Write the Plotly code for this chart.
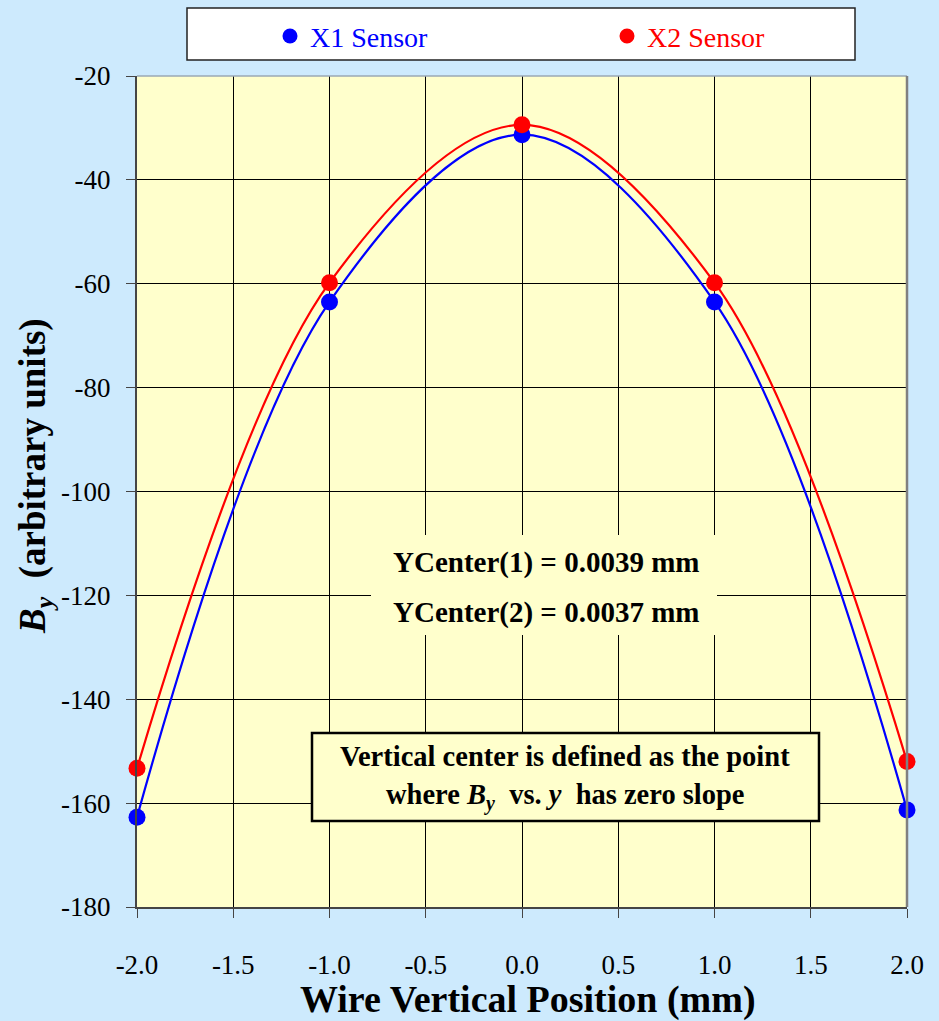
import plotly.graph_objects as go

# Wire vertical position (mm) and measured B_y for both sensors
positions = [-2.0, -1.0, 0.0, 1.0, 2.0]
x1_by = [-162.7, -63.5, -31.3, -63.5, -161.3]
x2_by = [-153.3, -59.8, -29.4, -59.8, -152.0]

series_names = ["X1 Sensor", "X2 Sensor"]
series_colors = ["#0000ff", "#ff0000"]

x_ticks = [-2.0, -1.5, -1.0, -0.5, 0.0, 0.5, 1.0, 1.5, 2.0]
y_ticks = [-180, -160, -140, -120, -100, -80, -60, -40, -20]

center_lines = ["YCenter(1) = 0.0039 mm", "YCenter(2) = 0.0037 mm"]
note_lines = [
    "<b>Vertical center is defined as the point</b>",
    "<b>where <i>B</i></b><sub><b><i>y</i></b></sub><b>  vs. <i>y</i>  has zero slope</b>",
]

SERIF = "Liberation Serif"
PAGE_BG = "#cdeafd"
PLOT_BG = "#ffffcc"

# plot area in pixels, used to place paper-referenced items
L, R, T, B = 137, 907, 76, 907
PW, PH = R - L, B - T


def px(xp):
    return (xp - L) / PW


def py(yp):
    return (B - yp) / PH


fig = go.Figure()

for name, ys, color in zip(series_names, [x1_by, x2_by], series_colors):
    # smooth fitted curve
    fig.add_trace(go.Scatter(
        x=positions, y=ys, mode="lines",
        line=dict(color=color, width=2.2, shape="spline", smoothing=1.0),
        showlegend=False, hoverinfo="skip",
    ))
for name, ys, color in zip(series_names, [x1_by, x2_by], series_colors):
    # measured points
    fig.add_trace(go.Scatter(
        x=positions, y=ys, mode="markers", name=name,
        marker=dict(color=color, size=17, line=dict(width=0)),
        showlegend=False, cliponaxis=False,
    ))

fig.update_layout(
    width=939, height=1021,
    margin=dict(l=L, r=939 - R, t=T, b=1021 - B, autoexpand=False),
    paper_bgcolor=PAGE_BG,
    plot_bgcolor=PLOT_BG,
    font=dict(family=SERIF, size=27, color="#000000"),
    showlegend=False,
    xaxis=dict(
        range=[-2.0, 2.0],
        tickvals=x_ticks,
        ticktext=[f"{v:.1f}" for v in x_ticks],
        showgrid=True, gridcolor="#000000", gridwidth=1,
        zeroline=False,
        showline=True, linecolor="#454545", linewidth=2,
        ticks="outside", ticklen=9, tickcolor="#454545", tickwidth=1,
        ticklabelstandoff=24,
        tickfont=dict(family=SERIF, size=27),
    ),
    yaxis=dict(
        range=[-180, -20],
        tickvals=y_ticks,
        ticktext=[str(v) for v in y_ticks],
        showgrid=True, gridcolor="#000000", gridwidth=1,
        zeroline=False,
        showline=True, linecolor="#454545", linewidth=2,
        ticks="outside", ticklen=9, tickcolor="#454545", tickwidth=1,
        ticklabelstandoff=10,
        tickfont=dict(family=SERIF, size=27),
    ),
)

# legend panel
fig.add_shape(type="rect", xref="paper", yref="paper",
              x0=px(187), x1=px(855), y0=py(60), y1=py(8),
              line=dict(color="#222222", width=1.5), fillcolor="#ffffff",
              layer="below")
for name, color, mx in zip(series_names, series_colors, [290, 627]):
    fig.add_shape(type="circle", xref="paper", yref="paper",
                  xsizemode="pixel", ysizemode="pixel",
                  xanchor=px(mx), yanchor=py(36),
                  x0=-7.5, x1=7.5, y0=-7.5, y1=7.5,
                  fillcolor=color, line=dict(width=0))
    fig.add_annotation(
        text=name, xref="paper", yref="paper",
        x=px(mx + 18), y=py(37), xanchor="left", yanchor="middle",
        showarrow=False, font=dict(family=SERIF, size=28, color=color),
    )

# plot frame, top and right edges
fig.add_shape(type="line", xref="paper", yref="paper", x0=0, x1=1, y0=1, y1=1,
              line=dict(color="#9aa8b4", width=1.5))
fig.add_shape(type="line", xref="paper", yref="paper", x0=1, x1=1, y0=0, y1=1,
              line=dict(color="#808080", width=2.5))

# axis titles
fig.add_annotation(
    text="<b>Wire Vertical Position (mm)</b>",
    xref="paper", yref="paper", x=px(528), y=py(999),
    xanchor="center", yanchor="middle", showarrow=False,
    font=dict(family=SERIF, size=38),
)
fig.add_annotation(
    text="<b><i>B</i></b><sub><b><i>y</i></b></sub><b>  (arbitrary units)</b>",
    xref="paper", yref="paper", x=px(35), y=py(476),
    xanchor="center", yanchor="middle", textangle=-90, showarrow=False,
    font=dict(family=SERIF, size=37),
)

# fitted center results, on a plain panel that hides the grid
fig.add_shape(type="rect", xref="paper", yref="paper",
              x0=px(371), x1=px(717), y0=py(635), y1=py(535),
              line=dict(width=0), fillcolor=PLOT_BG, layer="above")
for text, yc in zip(center_lines, [562, 612]):
    fig.add_annotation(
        text="<b>" + text + "</b>",
        xref="paper", yref="paper", x=px(546), y=py(yc),
        xanchor="center", yanchor="middle", showarrow=False,
        font=dict(family=SERIF, size=29),
    )

# definition note
fig.add_shape(type="rect", xref="paper", yref="paper",
              x0=px(312), x1=px(819), y0=py(821), y1=py(733),
              line=dict(color="#000000", width=2.5), fillcolor=PLOT_BG,
              layer="above")
for text, yc in zip(note_lines, [756, 797]):
    fig.add_annotation(
        text=text,
        xref="paper", yref="paper", x=px(565), y=py(yc),
        xanchor="center", yanchor="middle", showarrow=False,
        font=dict(family=SERIF, size=28.5),
    )

fig.write_html("out.html")
